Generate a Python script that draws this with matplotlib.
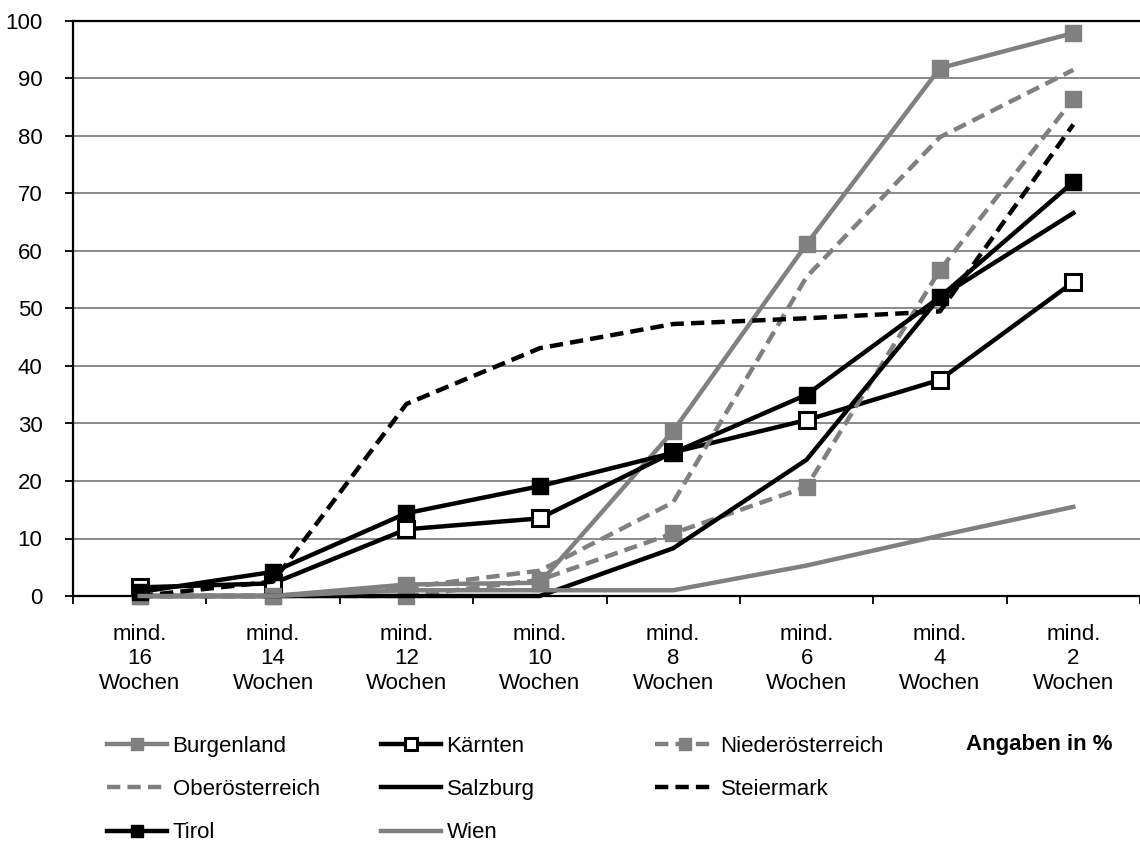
import matplotlib.pyplot as plt

plt.rcParams["font.family"] = ["Liberation Sans", "DejaVu Sans"]
plt.rcParams["font.size"] = 16

categories = ["mind.\n16\nWochen", "mind.\n14\nWochen", "mind.\n12\nWochen", "mind.\n10\nWochen",
              "mind.\n8\nWochen", "mind.\n6\nWochen", "mind.\n4\nWochen", "mind.\n2\nWochen"]

burgenland = [0, 0, 2.0, 2.3, 28.7, 61.2, 91.8, 97.9]
kaernten = [1.5, 2.2, 11.6, 13.5, 25.0, 30.6, 37.6, 54.6]
niederoesterreich = [0, 0, 0, 2.8, 10.9, 19.0, 56.7, 86.4]
oberoesterreich = [0, 0, 1.5, 4.4, 16.3, 55.5, 79.8, 91.5]
salzburg = [0, 0, 0, 0, 8.3, 23.7, 52.0, 66.6]
steiermark = [0, 2.5, 33.4, 43.1, 47.3, 48.3, 49.5, 82.0]
tirol = [0.7, 4.2, 14.4, 19.1, 24.9, 35.0, 52.0, 72.0]
wien = [0, 0, 1.0, 1.0, 1.0, 5.3, 10.5, 15.5]

GRAY = "#808080"
x = list(range(len(categories)))

fig = plt.figure(figsize=(11.4, 8.47), dpi=100)
ax = fig.add_axes([73 / 1140, 1 - 596 / 847, 1 - 73 / 1140, 575 / 847])

lw = 3.2
ms = 12
dash = (0, (3.0, 1.6))

series = [
    ("Burgenland", burgenland, dict(color=GRAY, ls="-", marker="s", mfc=GRAY, mec=GRAY)),
    ("Kärnten", kaernten, dict(color="black", ls="-", marker="s", mfc="white", mec="black", mew=2.2)),
    ("Niederösterreich", niederoesterreich, dict(color=GRAY, ls=dash, marker="s", mfc=GRAY, mec=GRAY)),
    ("Oberösterreich", oberoesterreich, dict(color=GRAY, ls=dash)),
    ("Salzburg", salzburg, dict(color="black", ls="-")),
    ("Steiermark", steiermark, dict(color="black", ls=dash)),
    ("Tirol", tirol, dict(color="black", ls="-", marker="s", mfc="black", mec="black")),
    ("Wien", wien, dict(color=GRAY, ls="-")),
]

handles = {}
for name, vals, style in series:
    line, = ax.plot(x, vals, lw=lw, ms=ms, clip_on=False, label=name, zorder=3, **style)
    handles[name] = line

# plot runs off the right edge like the original export
ax.set_xlim(-0.5, 7.44)
ax.set_ylim(0, 100)
ax.set_yticks(range(0, 101, 10))
ax.yaxis.grid(True, color=GRAY, lw=1.3)
ax.set_axisbelow(True)

ax.set_xticks([i + 0.5 for i in range(-1, 8)])
ax.set_xticklabels([])
ax.set_xticks(x, minor=True)
ax.set_xticklabels(categories, minor=True, linespacing=1.22)
ax.tick_params(axis="x", which="minor", length=0, pad=20)
ax.tick_params(axis="x", which="major", length=6, width=1.3, direction="out")
ax.tick_params(axis="y", length=6, width=1.3, direction="out", pad=16)

for s in ["left", "bottom", "top"]:
    ax.spines[s].set_linewidth(1.6)
ax.spines["right"].set_visible(False)

# legend: three separate columns, positioned like the original
cols = [(["Burgenland", "Oberösterreich", "Tirol"], 107),
        (["Kärnten", "Salzburg", "Wien"], 381),
        (["Niederösterreich", "Steiermark"], 655)]
for names, px in cols:
    fig.legend([handles[n] for n in names], names, loc="upper left",
               bbox_to_anchor=(px / 1140, 1 - 736 / 847), frameon=False,
               borderpad=0, borderaxespad=0, handlelength=2.7, handletextpad=0.25,
               labelspacing=1.0, markerscale=0.75, fontsize=16)

fig.text(1112 / 1140, 1 - 744 / 847, "Angaben in %", ha="right", va="center",
         fontweight="bold", fontsize=16)

fig.savefig("out.png", dpi=100)
